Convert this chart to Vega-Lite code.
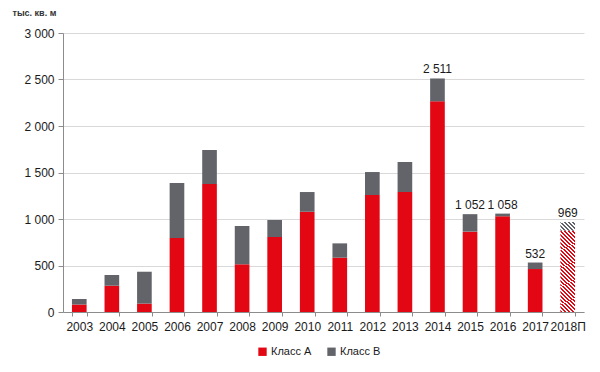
{
  "$schema": "https://vega.github.io/schema/vega-lite/v6.json",
  "width": 521,
  "height": 279,
  "autosize": {"type": "none"},
  "padding": {"left": 63, "top": 33, "right": 16, "bottom": 60},
  "background": "white",
  "config": {
    "view": {"stroke": null},
    "font": "Liberation Sans",
    "locale": {"number": {"decimal": ",", "thousands": " ", "grouping": [3], "currency": ["", ""]}}
  },
  "datasets": {
    "bars": [
      {"year": "2003", "class": "Класс А", "value": 80},
      {"year": "2003", "class": "Класс В", "value": 60},
      {"year": "2004", "class": "Класс А", "value": 283},
      {"year": "2004", "class": "Класс В", "value": 115},
      {"year": "2005", "class": "Класс А", "value": 90},
      {"year": "2005", "class": "Класс В", "value": 343},
      {"year": "2006", "class": "Класс А", "value": 795},
      {"year": "2006", "class": "Класс В", "value": 592},
      {"year": "2007", "class": "Класс А", "value": 1376},
      {"year": "2007", "class": "Класс В", "value": 366},
      {"year": "2008", "class": "Класс А", "value": 513},
      {"year": "2008", "class": "Класс В", "value": 412},
      {"year": "2009", "class": "Класс А", "value": 806},
      {"year": "2009", "class": "Класс В", "value": 183},
      {"year": "2010", "class": "Класс А", "value": 1078},
      {"year": "2010", "class": "Класс В", "value": 212},
      {"year": "2011", "class": "Класс А", "value": 584},
      {"year": "2011", "class": "Класс В", "value": 154},
      {"year": "2012", "class": "Класс А", "value": 1258},
      {"year": "2012", "class": "Класс В", "value": 247},
      {"year": "2013", "class": "Класс А", "value": 1290},
      {"year": "2013", "class": "Класс В", "value": 323},
      {"year": "2014", "class": "Класс А", "value": 2265},
      {"year": "2014", "class": "Класс В", "value": 246},
      {"year": "2015", "class": "Класс А", "value": 864},
      {"year": "2015", "class": "Класс В", "value": 188},
      {"year": "2016", "class": "Класс А", "value": 1029},
      {"year": "2016", "class": "Класс В", "value": 29},
      {"year": "2017", "class": "Класс А", "value": 462},
      {"year": "2017", "class": "Класс В", "value": 70},
      {"year": "2018П", "class": "Класс А", "value": 874},
      {"year": "2018П", "class": "Класс В", "value": 95}
    ],
    "totals": [
      {"year": "2014", "total": 2511},
      {"year": "2015", "total": 1052},
      {"year": "2016", "total": 1058},
      {"year": "2017", "total": 532},
      {"year": "2018П", "total": 969}
    ]
  },
  "encoding": {
    "x": {
      "field": "year",
      "type": "nominal",
      "scale": {
        "domain": ["2003","2004","2005","2006","2007","2008","2009","2010","2011","2012","2013","2014","2015","2016","2017","2018П"],
        "paddingInner": 0.55,
        "paddingOuter": 0.275
      },
      "axis": {
        "title": null,
        "labelAngle": 0,
        "labelFontSize": 12,
        "labelColor": "#1a1a1a",
        "labelPadding": 5,
        "tickBand": "extent",
        "tickSize": 4,
        "tickColor": "#8c8c8c",
        "domainColor": "#8c8c8c",
        "grid": false
      }
    }
  },
  "layer": [
    {
      "data": {"name": "bars"},
      "transform": [{"filter": "datum.year !== '2018П'"}],
      "mark": {"type": "bar"},
      "encoding": {
        "y": {
          "field": "value",
          "type": "quantitative",
          "stack": "zero",
          "scale": {"domain": [0, 3000], "nice": false},
          "axis": {
            "values": [0, 500, 1000, 1500, 2000, 2500, 3000],
            "format": ",d",
            "title": "тыс. кв. м",
            "titleAngle": 0,
            "titleAlign": "left",
            "titleBaseline": "middle",
            "titleX": -51,
            "titleY": -21,
            "titleFontSize": 9,
            "titleFontWeight": "bold",
            "titleColor": "#333333",
            "labelFontSize": 12,
            "labelColor": "#1a1a1a",
            "labelPadding": 4,
            "tickSize": 5,
            "tickColor": "#8c8c8c",
            "domainColor": "#8c8c8c",
            "gridColor": "#d9d9d9"
          }
        },
        "order": {"field": "class", "type": "nominal", "sort": "ascending"},
        "color": {
          "field": "class",
          "type": "nominal",
          "scale": {"domain": ["Класс А", "Класс В"], "range": ["#E30613", "#636469"]},
          "legend": {
            "title": null,
            "orient": "none",
            "direction": "horizontal",
            "legendX": 194,
            "legendY": 313,
            "symbolType": "square",
            "symbolSize": 70,
            "symbolStrokeWidth": 0,
            "labelFontSize": 11,
            "labelColor": "#1a1a1a",
            "columnPadding": 14,
            "labelOffset": 3
          }
        }
      }
    },
    {
      "data": {"name": "bars"},
      "transform": [{"filter": "datum.year === '2018П'"}],
      "mark": {"type": "bar"},
      "encoding": {
        "y": {"field": "value", "type": "quantitative", "stack": "zero"},
        "detail": {"field": "class", "type": "nominal"},
        "order": {"field": "class", "type": "nominal", "sort": "ascending"},
        "fill": {
          "condition": {
            "test": "datum['class'] === 'Класс А'",
            "value": {
              "gradient": "linear", "x1": 0, "y1": 1, "x2": 0.189, "y2": -0.135,
              "stops": [
                {"offset": 0, "color": "#E30613"}, {"offset": 0.02, "color": "#E30613"}, {"offset": 0.02, "color": "#ffffff"}, {"offset": 0.04, "color": "#ffffff"},
                {"offset": 0.04, "color": "#E30613"}, {"offset": 0.06, "color": "#E30613"}, {"offset": 0.06, "color": "#ffffff"}, {"offset": 0.08, "color": "#ffffff"},
                {"offset": 0.08, "color": "#E30613"}, {"offset": 0.10, "color": "#E30613"}, {"offset": 0.10, "color": "#ffffff"}, {"offset": 0.12, "color": "#ffffff"},
                {"offset": 0.12, "color": "#E30613"}, {"offset": 0.14, "color": "#E30613"}, {"offset": 0.14, "color": "#ffffff"}, {"offset": 0.16, "color": "#ffffff"},
                {"offset": 0.16, "color": "#E30613"}, {"offset": 0.18, "color": "#E30613"}, {"offset": 0.18, "color": "#ffffff"}, {"offset": 0.20, "color": "#ffffff"},
                {"offset": 0.20, "color": "#E30613"}, {"offset": 0.22, "color": "#E30613"}, {"offset": 0.22, "color": "#ffffff"}, {"offset": 0.24, "color": "#ffffff"},
                {"offset": 0.24, "color": "#E30613"}, {"offset": 0.26, "color": "#E30613"}, {"offset": 0.26, "color": "#ffffff"}, {"offset": 0.28, "color": "#ffffff"},
                {"offset": 0.28, "color": "#E30613"}, {"offset": 0.30, "color": "#E30613"}, {"offset": 0.30, "color": "#ffffff"}, {"offset": 0.32, "color": "#ffffff"},
                {"offset": 0.32, "color": "#E30613"}, {"offset": 0.34, "color": "#E30613"}, {"offset": 0.34, "color": "#ffffff"}, {"offset": 0.36, "color": "#ffffff"},
                {"offset": 0.36, "color": "#E30613"}, {"offset": 0.38, "color": "#E30613"}, {"offset": 0.38, "color": "#ffffff"}, {"offset": 0.40, "color": "#ffffff"},
                {"offset": 0.40, "color": "#E30613"}, {"offset": 0.42, "color": "#E30613"}, {"offset": 0.42, "color": "#ffffff"}, {"offset": 0.44, "color": "#ffffff"},
                {"offset": 0.44, "color": "#E30613"}, {"offset": 0.46, "color": "#E30613"}, {"offset": 0.46, "color": "#ffffff"}, {"offset": 0.48, "color": "#ffffff"},
                {"offset": 0.48, "color": "#E30613"}, {"offset": 0.50, "color": "#E30613"}, {"offset": 0.50, "color": "#ffffff"}, {"offset": 0.52, "color": "#ffffff"},
                {"offset": 0.52, "color": "#E30613"}, {"offset": 0.54, "color": "#E30613"}, {"offset": 0.54, "color": "#ffffff"}, {"offset": 0.56, "color": "#ffffff"},
                {"offset": 0.56, "color": "#E30613"}, {"offset": 0.58, "color": "#E30613"}, {"offset": 0.58, "color": "#ffffff"}, {"offset": 0.60, "color": "#ffffff"},
                {"offset": 0.60, "color": "#E30613"}, {"offset": 0.62, "color": "#E30613"}, {"offset": 0.62, "color": "#ffffff"}, {"offset": 0.64, "color": "#ffffff"},
                {"offset": 0.64, "color": "#E30613"}, {"offset": 0.66, "color": "#E30613"}, {"offset": 0.66, "color": "#ffffff"}, {"offset": 0.68, "color": "#ffffff"},
                {"offset": 0.68, "color": "#E30613"}, {"offset": 0.70, "color": "#E30613"}, {"offset": 0.70, "color": "#ffffff"}, {"offset": 0.72, "color": "#ffffff"},
                {"offset": 0.72, "color": "#E30613"}, {"offset": 0.74, "color": "#E30613"}, {"offset": 0.74, "color": "#ffffff"}, {"offset": 0.76, "color": "#ffffff"},
                {"offset": 0.76, "color": "#E30613"}, {"offset": 0.78, "color": "#E30613"}, {"offset": 0.78, "color": "#ffffff"}, {"offset": 0.80, "color": "#ffffff"},
                {"offset": 0.80, "color": "#E30613"}, {"offset": 0.82, "color": "#E30613"}, {"offset": 0.82, "color": "#ffffff"}, {"offset": 0.84, "color": "#ffffff"},
                {"offset": 0.84, "color": "#E30613"}, {"offset": 0.86, "color": "#E30613"}, {"offset": 0.86, "color": "#ffffff"}, {"offset": 0.88, "color": "#ffffff"},
                {"offset": 0.88, "color": "#E30613"}, {"offset": 0.90, "color": "#E30613"}, {"offset": 0.90, "color": "#ffffff"}, {"offset": 0.92, "color": "#ffffff"},
                {"offset": 0.92, "color": "#E30613"}, {"offset": 0.94, "color": "#E30613"}, {"offset": 0.94, "color": "#ffffff"}, {"offset": 0.96, "color": "#ffffff"},
                {"offset": 0.96, "color": "#E30613"}, {"offset": 0.98, "color": "#E30613"}, {"offset": 0.98, "color": "#ffffff"}, {"offset": 1, "color": "#ffffff"}
              ]
            }
          },
          "value": {
            "gradient": "linear", "x1": 0, "y1": 1, "x2": 1.155, "y2": 0.23,
            "stops": [
              {"offset": 0, "color": "#636469"}, {"offset": 0.0833, "color": "#636469"}, {"offset": 0.0833, "color": "#ffffff"}, {"offset": 0.1667, "color": "#ffffff"},
              {"offset": 0.1667, "color": "#636469"}, {"offset": 0.25, "color": "#636469"}, {"offset": 0.25, "color": "#ffffff"}, {"offset": 0.3333, "color": "#ffffff"},
              {"offset": 0.3333, "color": "#636469"}, {"offset": 0.4167, "color": "#636469"}, {"offset": 0.4167, "color": "#ffffff"}, {"offset": 0.5, "color": "#ffffff"},
              {"offset": 0.5, "color": "#636469"}, {"offset": 0.5833, "color": "#636469"}, {"offset": 0.5833, "color": "#ffffff"}, {"offset": 0.6667, "color": "#ffffff"},
              {"offset": 0.6667, "color": "#636469"}, {"offset": 0.75, "color": "#636469"}, {"offset": 0.75, "color": "#ffffff"}, {"offset": 0.8333, "color": "#ffffff"},
              {"offset": 0.8333, "color": "#636469"}, {"offset": 0.9167, "color": "#636469"}, {"offset": 0.9167, "color": "#ffffff"}, {"offset": 1, "color": "#ffffff"}
            ]
          }
        }
      }
    },
    {
      "data": {"name": "totals"},
      "mark": {"type": "text", "dy": -9, "fontSize": 12, "color": "#1a1a1a"},
      "encoding": {
        "y": {"field": "total", "type": "quantitative"},
        "text": {"field": "total", "type": "quantitative", "format": ",d"}
      }
    }
  ]
}
